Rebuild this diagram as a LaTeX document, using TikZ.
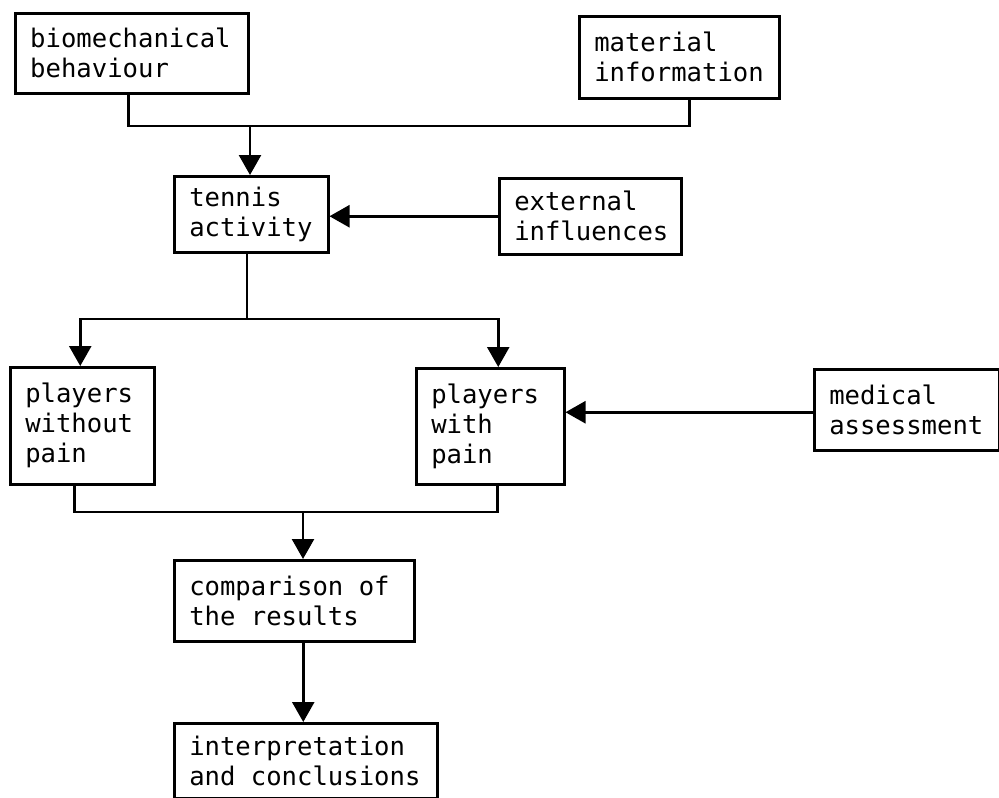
\documentclass[tikz,border=0pt]{standalone}
\usepackage{fontspec}
\newfontfamily\boxfont{DejaVu Sans Mono}
\usetikzlibrary{arrows.meta,calc}
\tikzset{
  box/.style={draw, line width=2.5pt, anchor=north west, inner xsep=15pt, inner ysep=0pt,
    align=flush left, font=\boxfont\fontsize{25.6}{30}\selectfont},
  link/.style={line width=2.5pt},
  arr/.style={line width=2.5pt, -{Triangle[width=22pt,length=20pt]}}
}
\begin{document}
\begin{tikzpicture}[x=1pt,y=-1pt]
\useasboundingbox (0,0) rectangle (999,798);
\node[box, text width=203pt, minimum height=80pt] (bio) at (14,12) {biomechanical\\behaviour};
\node[box, text width=170pt, minimum height=82pt] (mat) at (578,15) {material\\information};
\node[box, text width=124pt, minimum height=76pt] (ten) at (173,175) {tennis\\activity};
\node[box, text width=152pt, minimum height=76pt] (ext) at (498,177) {external\\influences};
\node[box, text width=114pt, minimum height=117pt] (lft) at (9,366) {players\\without\\pain};
\node[box, text width=118pt, minimum height=116pt] (rgt) at (415,367) {players\\with\\pain};
\node[box, text width=155pt, minimum height=81pt] (med) at (813,368) {medical\\assessment};
\node[box, text width=210pt, minimum height=81pt] (cmp) at (173,559) {comparison of\\the results};
\node[box, text width=233pt, minimum height=75pt] (int) at (173,722) {interpretation\\and conclusions};

\coordinate (j1) at (250,126);
\coordinate (j2) at (247,319);
\coordinate (j3) at (303,512);

\draw[link] ([xshift=-3.5pt]bio.south) |- (j1);
\draw[link] ([xshift=10pt]mat.south) |- (j1);
\draw[arr] (j1) -- (j1 |- ten.north);
\draw[arr] (ext.west) -- (ext.west -| ten.east);

\draw[link] (ten.south -| j2) -- (j2);
\draw[arr] (j2) -| ([xshift=-2pt]lft.north);
\draw[arr] (j2) -| ([xshift=8pt]rgt.north);
\draw[arr] ([yshift=-2.5pt]med.west) -- ([yshift=-2.5pt]med.west -| rgt.east);

\draw[link] ([xshift=-8pt]lft.south) |- (j3);
\draw[link] ([xshift=7pt]rgt.south) |- (j3);
\draw[arr] (j3) -- (j3 |- cmp.north);
\draw[arr] ([xshift=9pt]cmp.south) -- ([xshift=9pt]cmp.south |- int.north);
\end{tikzpicture}
\end{document}
